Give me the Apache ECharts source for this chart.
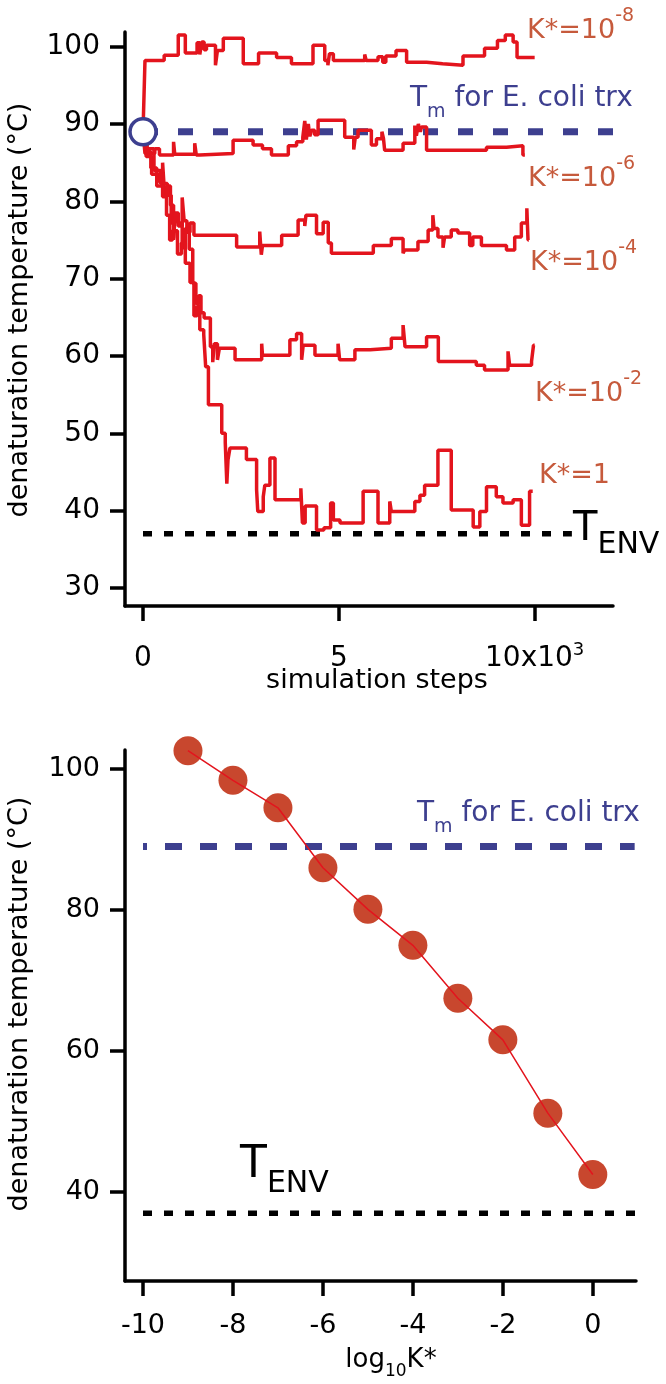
<!DOCTYPE html>
<html>
<head>
    <meta charset="utf-8">
    <title>denaturation temperature</title>
    <script type="text/javascript" src="https://cdn.jsdelivr.net/npm/echarts@6.0.0/dist/echarts.min.js"></script>
    <style>body { margin: 0; background: #fff; }</style>
</head>
<body>
    <div id="main" style="width: 666px;height:1384px;"></div>
    <script type="text/javascript">
        // top panel: [simulation steps (x10^3), denaturation temperature] – step traces
        var traceK8 = [[0, 89], [0.05, 98.2], [0.54, 98.9], [0.9, 101.5], [1.08, 99.2], [1.38, 100.5], [1.45, 99.0], [1.5, 100.6], [1.56, 99.6], [1.62, 100.2], [1.85, 97.6], [1.9, 99.5], [2.05, 101.1], [2.56, 97.8], [2.95, 99.2], [3.41, 98.6], [3.79, 97.8], [4.34, 100.2], [4.64, 98.2], [4.72, 97.6], [4.76, 99.1], [4.86, 98.2], [5.66, 99.0], [5.7, 98.2], [6.0, 98.7], [6.12, 98.0], [6.2, 98.8], [6.46, 99.5], [6.73, 98.0], [7.24, 97.8], [7.65, 97.6], [8.17, 98.8], [8.72, 99.8], [9.05, 100.8], [9.25, 101.5], [9.45, 100.6], [9.55, 98.6], [10.0, 98.6]];
        var traceK6 = [[0, 89], [0.05, 86.2], [0.3, 86.8], [0.42, 86.0], [0.78, 87.7], [0.81, 86.1], [1.32, 87.5], [1.36, 86.0], [1.45, 86.2], [2.3, 87.9], [2.81, 87.3], [3.05, 86.8], [3.28, 86.0], [3.71, 87.2], [3.92, 87.7], [4.08, 88.3], [4.13, 90.4], [4.17, 88.0], [4.22, 90.0], [4.26, 88.4], [4.3, 89.2], [4.38, 88.6], [4.47, 90.5], [5.15, 88.3], [5.38, 86.7], [5.42, 88.3], [5.49, 89.2], [5.83, 87.3], [5.96, 88.1], [6.1, 89.0], [6.14, 88.1], [6.17, 86.6], [6.64, 87.5], [6.94, 89.8], [6.98, 88.5], [7.03, 90.0], [7.08, 89.0], [7.11, 89.6], [7.24, 86.6], [8.77, 87.0], [9.28, 87.2], [9.7, 86.0], [9.75, 86.0]];
        var traceK4 = [[0, 89], [0.08, 85.8], [0.22, 83.5], [0.42, 82.5], [0.5, 85.0], [0.55, 81.0], [0.62, 82.0], [0.7, 79.5], [0.78, 75.2], [0.82, 78.0], [0.9, 76.8], [1.0, 80.5], [1.05, 77.5], [1.12, 76.0], [1.2, 77.2], [1.3, 75.6], [2.39, 74.1], [2.98, 76.1], [3.02, 73.1], [3.05, 74.3], [3.54, 75.6], [3.96, 77.6], [4.13, 76.8], [4.16, 78.2], [4.43, 75.8], [4.6, 77.3], [4.73, 74.6], [4.81, 73.3], [5.88, 74.3], [6.34, 75.2], [6.64, 73.3], [6.68, 73.7], [7.02, 74.8], [7.28, 76.3], [7.4, 78.2], [7.43, 76.5], [7.53, 75.4], [7.66, 74.0], [7.7, 75.4], [7.87, 76.3], [8.04, 75.9], [8.34, 74.3], [8.42, 75.4], [8.64, 74.3], [9.28, 73.7], [9.49, 75.4], [9.66, 77.2], [9.8, 79.1], [9.83, 75.0], [9.85, 75.0]];
        var traceK2 = [[0, 89], [0.1, 86.8], [0.28, 84.0], [0.45, 82.3], [0.62, 80.8], [0.72, 77.2], [0.78, 75.0], [0.82, 78.5], [0.9, 77.2], [1.0, 74.0], [1.08, 76.5], [1.18, 73.8], [1.27, 69.4], [1.35, 66.8], [1.42, 67.8], [1.48, 65.6], [1.56, 64.9], [1.72, 61.2], [1.78, 59.2], [1.82, 61.6], [1.9, 59.5], [1.95, 61.0], [2.35, 59.5], [3.03, 61.6], [3.05, 60.1], [3.75, 62.1], [3.92, 62.9], [4.05, 59.5], [4.09, 61.4], [4.39, 60.1], [4.98, 61.6], [5.02, 59.5], [5.41, 60.8], [5.8, 61.0], [6.34, 62.3], [6.64, 64.0], [6.69, 61.2], [7.24, 62.5], [7.54, 59.3], [8.51, 58.8], [8.72, 58.2], [9.32, 60.6], [9.36, 58.8], [9.92, 59.3], [9.97, 61.4], [10.0, 61.4]];
        var traceK0 = [[0, 89], [0.1, 86.4], [0.2, 84.3], [0.35, 82.0], [0.5, 80.6], [0.6, 78.2], [0.68, 75.0], [0.75, 76.2], [0.88, 73.2], [0.98, 74.6], [1.08, 72.0], [1.2, 69.5], [1.3, 65.2], [1.38, 66.4], [1.45, 63.4], [1.55, 62.8], [1.6, 58.6], [1.67, 53.7], [2.01, 50.0], [2.1, 48.8], [2.14, 43.5], [2.17, 46.6], [2.22, 48.1], [2.64, 46.6], [2.9, 42.7], [2.93, 39.9], [3.07, 41.8], [3.11, 43.3], [3.24, 46.8], [3.37, 41.4], [4.03, 42.9], [4.07, 38.4], [4.14, 40.6], [4.43, 37.5], [4.62, 37.8], [4.79, 41.0], [4.86, 38.8], [5.03, 38.4], [5.62, 42.5], [6.0, 38.4], [6.3, 41.2], [6.34, 39.9], [6.94, 41.2], [7.07, 42.0], [7.19, 43.3], [7.53, 47.8], [7.87, 40.1], [8.43, 37.9], [8.6, 39.9], [8.77, 43.1], [9.02, 41.8], [9.19, 41.0], [9.45, 41.4], [9.66, 38.1], [9.87, 42.5], [9.95, 42.5]];

        // bottom panel: log10 K* vs denaturation temperature
        var logK = [-9, -8, -7, -6, -5, -4, -3, -2, -1, 0];
        var tDen = [102.6, 98.4, 94.5, 86.0, 80.1, 75.0, 67.5, 61.6, 51.2, 42.5];

        // reference temperatures
        var tmTrx = 89;
        var tEnv = 37;

        // ticks
        var stepTicks = [0, 5, 10];
        var tempTicksTop = [30, 40, 50, 60, 70, 80, 90, 100];
        var logTicks = [-10, -8, -6, -4, -2, 0];
        var tempTicksBottom = [40, 60, 80, 100];

        var RED = '#e3141d';
        var BLUE = '#3d3f8f';
        var KCOL = '#c65a3c';
        var FONT = 'DejaVu Sans';

        var myChart = echarts.init(document.getElementById('main'));

        function axisBase(ticks, size, margin) {
            return {
                type: 'value',
                axisLine: { show: true, onZero: false, lineStyle: { color: '#000', width: 3.5 } },
                axisTick: { show: true, length: 15, lineStyle: { color: '#000', width: 3.5 }, customValues: ticks },
                axisLabel: { color: '#000', fontSize: size, fontFamily: FONT, margin: margin, customValues: ticks },
                splitLine: { show: false }
            };
        }

        function trace(data) {
            return {
                type: 'line', xAxisIndex: 0, yAxisIndex: 0, step: 'end', symbol: 'none',
                data: data, lineStyle: { color: RED, width: 3.5 }, z: 4
            };
        }

        function refLine(xi, data, color, width, dash, offset) {
            return {
                type: 'line', xAxisIndex: xi, yAxisIndex: xi, symbol: 'none', data: data, z: 3,
                lineStyle: { color: color, width: width, type: dash, dashOffset: offset || 0, cap: 'butt' }
            };
        }

        // rich token style for graphic text (zrender reads fill)
        function tok(size, lh, col, va) {
            var s = { fontFamily: FONT, fontSize: size, lineHeight: lh, fill: col, color: col };
            if (va) s.verticalAlign = va;
            return s;
        }

        function kLabel(x, y, exp) {
            var txt = exp === null ? '{k|K*=1}' : '{k|K*=10}{s|' + exp + '}';
            return {
                type: 'text', x: x, y: y, z: 10,
                style: {
                    text: txt, align: 'left', verticalAlign: 'middle', fill: KCOL,
                    rich: { k: tok(27, 49, KCOL), s: tok(19, 19, KCOL, 'top') }
                }
            };
        }

        function tmLabel(x, y) {
            return {
                type: 'text', x: x, y: y, z: 10,
                style: {
                    text: '{t|T}{m|m}{t| for E. coli trx}', align: 'left', verticalAlign: 'middle', fill: BLUE,
                    rich: { t: tok(28, 45, BLUE), m: tok(19, 19, BLUE, 'bottom') }
                }
            };
        }

        function envLabel(x, y, big, lh) {
            return {
                type: 'text', x: x, y: y, z: 10,
                style: {
                    text: '{t|T}{e|ENV}', align: 'left', verticalAlign: 'middle', fill: '#000',
                    rich: { t: tok(big, lh, '#000'), e: tok(30, 30, '#000', 'bottom') }
                }
            };
        }

        var xTop = axisBase(stepTicks, 28, 35);
        xTop.gridIndex = 0; xTop.min = -0.46; xTop.max = 12;
        xTop.axisLabel.formatter = function (v) { return v === 10 ? '{a|10x10}{s|3}' : '{a|' + v + '}'; };
        xTop.axisLabel.rich = {
            a: { fontFamily: FONT, fontSize: 28, lineHeight: 36, color: '#000' },
            s: { fontFamily: FONT, fontSize: 18, lineHeight: 17, verticalAlign: 'top', color: '#000' }
        };
        var yTop = axisBase(tempTicksTop, 28, 25);
        yTop.gridIndex = 0; yTop.min = 27.67; yTop.max = 101.9;

        var xBot = axisBase(logTicks, 27, 31);
        xBot.gridIndex = 1; xBot.min = -10.4; xBot.max = 0.96;
        var yBot = axisBase(tempTicksBottom, 27, 25);
        yBot.gridIndex = 1; yBot.min = 27.4; yBot.max = 102.7;

        var option = {
            animation: false,
            textStyle: { fontFamily: FONT },
            grid: [
                { left: 125, top: 32, width: 488, height: 574 },
                { left: 125, top: 750, width: 511, height: 531 }
            ],
            xAxis: [xTop, xBot],
            yAxis: [yTop, yBot],
            series: [
                refLine(0, [[0, tmTrx], [12, tmTrx]], BLUE, 7, [15, 20], 0),
                refLine(0, [[0, tEnv], [10.95, tEnv]], '#000', 5.5, [9, 12], 0),
                trace(traceK8), trace(traceK6), trace(traceK4), trace(traceK2), trace(traceK0),
                {
                    type: 'scatter', xAxisIndex: 0, yAxisIndex: 0, data: [[0, tmTrx]], z: 6,
                    symbol: 'circle', symbolSize: 26,
                    itemStyle: { color: '#fff', borderColor: BLUE, borderWidth: 3.5, opacity: 1 }
                },
                refLine(1, [[-10, tmTrx], [0.93, tmTrx]], BLUE, 7, [17, 18], 13),
                refLine(1, [[-10, tEnv], [0.96, tEnv]], '#000', 5.5, [9, 12], 0),
                {
                    type: 'scatter', xAxisIndex: 1, yAxisIndex: 1, z: 4,
                    data: logK.map(function (k, i) { return [k, tDen[i]]; }),
                    symbol: 'circle', symbolSize: 29,
                    itemStyle: { color: '#c8472e', opacity: 1 }
                },
                {
                    type: 'line', xAxisIndex: 1, yAxisIndex: 1, z: 5, symbol: 'none',
                    data: logK.map(function (k, i) { return [k, tDen[i]]; }),
                    lineStyle: { color: RED, width: 1.5 }
                }
            ],
            graphic: [
                // axis titles
                { type: 'text', x: 20, y: 310, rotation: Math.PI / 2, style: { text: 'denaturation temperature (°C)', fontFamily: FONT, fontSize: 27, fill: '#000', align: 'center', verticalAlign: 'middle' } },
                { type: 'text', x: 20, y: 1004, rotation: Math.PI / 2, style: { text: 'denaturation temperature (°C)', fontFamily: FONT, fontSize: 27, fill: '#000', align: 'center', verticalAlign: 'middle' } },
                { type: 'text', x: 377, y: 681, style: { text: 'simulation steps', fontFamily: FONT, fontSize: 27, fill: '#000', align: 'center', verticalAlign: 'middle' } },
                {
                    type: 'text', x: 391, y: 1360,
                    style: {
                        text: '{a|log}{b|10}{a|K*}', align: 'center', verticalAlign: 'middle', fill: '#000',
                        rich: { a: tok(26, 40, '#000'), b: tok(17, 17, '#000', 'bottom') }
                    }
                },
                // series annotations (top)
                kLabel(527, 31, '-8'),
                kLabel(528, 179, '-6'),
                kLabel(530, 263, '-4'),
                kLabel(535, 394, '-2'),
                kLabel(539, 476, null),
                tmLabel(410, 99),
                envLabel(573, 530, 40, 60),
                // bottom annotations
                tmLabel(417, 814),
                envLabel(240, 1166, 44, 66)
            ]
        };

        myChart.setOption(option);
    </script>
</body>
</html>
